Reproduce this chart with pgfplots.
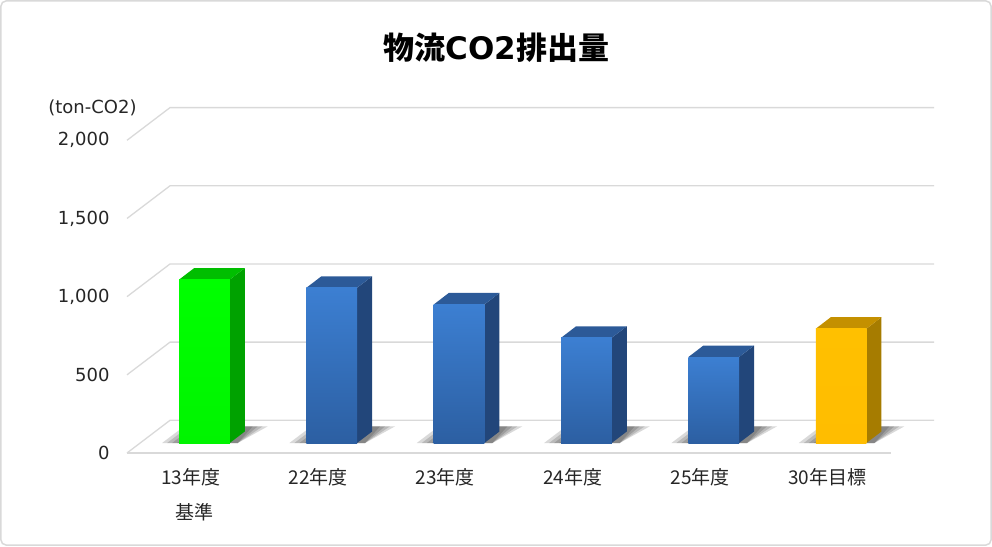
\documentclass[border=0pt]{standalone}
\usepackage{pgfplots}
\pgfplotsset{compat=1.18}
\usepackage{pgfplotstable}
\usepackage{fontspec}
\newfontfamily\dejavu{DejaVu Sans}
\newfontfamily\cjk{Noto Sans CJK JP}

\definecolor{gridc}{HTML}{D9D9D9}
\definecolor{gF1}{HTML}{00FF00}
\definecolor{gF2}{HTML}{00F400}
\definecolor{gS}{HTML}{00A200}
\definecolor{gT}{HTML}{00BE00}
\definecolor{bF1}{HTML}{3C7FD2}
\definecolor{bF2}{HTML}{2C5FA2}
\definecolor{bS}{HTML}{22467A}
\definecolor{bT}{HTML}{2C5A98}
\definecolor{yF1}{HTML}{FFC000}
\definecolor{yF2}{HTML}{FFBD00}
\definecolor{yS}{HTML}{A67C00}
\definecolor{yT}{HTML}{C49000}

\pgfplotstableread{
idx value
0 1045
1 993
2 886
3 673
4 550
5 731
}\codata

\newcommand{\barset}[1]{\ifcase#1 g\or b\or b\or b\or b\or y\fi}

\newcommand{\shadowlayer}[2]{% index, layer
  \pgfmathsetmacro\sa{#1-0.2245+0.0393*#2}%
  \pgfmathsetmacro\sb{#1+0.3698}%
  \pgfmathsetmacro\sc{#1+0.6054-0.0393*#2}%
  \pgfmathsetmacro\sd{#1-0.0517+0.0393*#2}%
  \edef\temp{\noexpand\addplot[draw=none, fill=black, fill opacity=0.15]
     coordinates {(\sa,63.9) (\sb,63.9) (\sc,170.6) (\sd,170.6)};}%
  \temp
}
\newcommand{\drawshadow}[1]{%
  \shadowlayer{#1}{0}\shadowlayer{#1}{1}\shadowlayer{#1}{2}\shadowlayer{#1}{3}%
}

\newcommand{\drawbar}[2]{%
  \pgfmathsetmacro\xa{#1-0.091}%
  \pgfmathsetmacro\xb{#1+0.307}%
  \pgfmathsetmacro\xc{#1+0.4248}%
  \pgfmathsetmacro\xd{#1+0.0268}%
  \pgfmathsetmacro\yb{#2+63.9}%
  \pgfmathsetmacro\yc{#2+137.4}%
  \edef\p{\barset{#1}}%
  \edef\temp{%
    \noexpand\addplot[draw=none, fill=\p S] coordinates {(\xb,63.9) (\xc,137.4) (\xc,\yc) (\xb,\yb)};
    \noexpand\addplot[draw=none, fill=\p T] coordinates {(\xa,\yb) (\xb,\yb) (\xc,\yc) (\xd,\yc)};
    \noexpand\addplot[draw=none, top color=\p F1, bottom color=\p F2] coordinates {(\xa,63.9) (\xb,63.9) (\xb,\yb) (\xa,\yb)};
  }%
  \temp
}

\begin{document}
\begin{tikzpicture}
\useasboundingbox (-127pt,-93pt) rectangle (865pt,453pt);
\draw[gridc, line width=1.5pt, rounded corners=5pt] (-126pt,-92pt) rectangle (864pt,452pt);
\begin{axis}[
  at={(0,0)}, anchor=south west,
  scale only axis, width=764pt, height=312.7pt,
  xmin=-0.5, xmax=5.5, ymin=0, ymax=2000,
  clip=false,
  axis line style={draw=none},
  tick style={draw=none},
  xtick={0,1,2,3,4,5},
  xticklabels={{13年度\\\hspace*{8pt}基準},22年度,23年度,24年度,25年度,30年目標},
  xticklabel style={font=\cjk\fontsize{19}{35}\selectfont, align=center, yshift=-12pt, text=black!85},
  ytick={0,500,1000,1500,2000},
  yticklabel style={font=\dejavu\fontsize{18}{20}\selectfont, xshift=-14pt, text=black!85},
  /pgf/number format/assume math mode=true,
  /pgf/number format/1000 sep={,},
]
% grid: left wall diagonals + back wall lines
\addplot[gridc, line width=1.3pt] coordinates {(-0.5,0) (-0.1623,209) (5.8377,209)};
\addplot[gridc, line width=1.3pt] coordinates {(-0.5,500) (-0.1623,709) (5.8377,709)};
\addplot[gridc, line width=1.3pt] coordinates {(-0.5,1000) (-0.1623,1209) (5.8377,1209)};
\addplot[gridc, line width=1.3pt] coordinates {(-0.5,1500) (-0.1623,1709) (5.8377,1709)};
\addplot[gridc, line width=1.3pt] coordinates {(-0.5,2000) (-0.1623,2209) (5.8377,2209)};
\addplot[gridc, line width=1.3pt] coordinates {(-0.5,0) (5.5,0)};
% shadows
\pgfplotsinvokeforeach{0,...,5}{\drawshadow{#1}}
% bars
\pgfplotsinvokeforeach{0,...,5}{%
  \pgfplotstablegetelem{#1}{value}\of\codata
  \edef\val{\pgfplotsretval}%
  \drawbar{#1}{\val}%
}
\end{axis}
\node[font=\dejavu\fontsize{18}{20}\selectfont, text=black!85] at (-34.5pt,345pt) {(ton-CO2)};
\node[font=\fontsize{31}{36}\selectfont] at (369.5pt,405.5pt) {{\cjk\bfseries 物流}{\dejavu\bfseries CO2}{\cjk\bfseries 排出量}};
\end{tikzpicture}
\end{document}
